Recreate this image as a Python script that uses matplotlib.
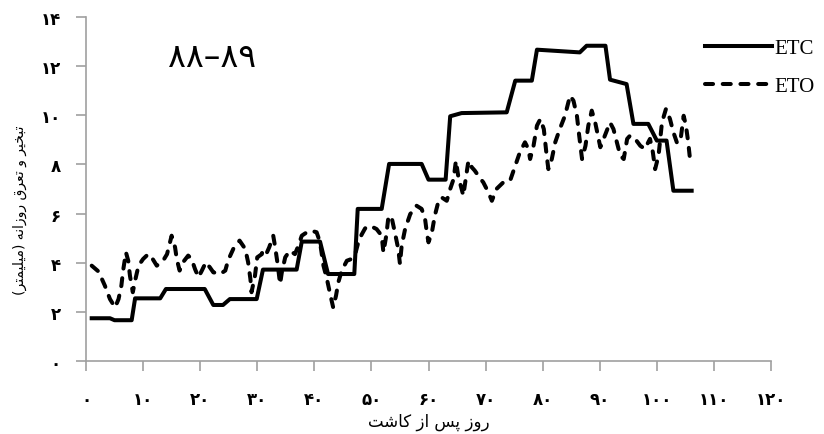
import matplotlib
matplotlib.use("Agg")
import matplotlib.pyplot as plt


plt.rcParams['font.family'] = ['DejaVu Sans']

# ETC (solid step line): day, mm/day
etc_day = [1, 4.2, 5, 8, 8.6, 13, 14, 20.8, 22.3, 24, 25.2, 29.9, 31, 36.9, 37.8, 41,
           42.4, 47, 47.6, 51.8, 53.1, 58.8, 60, 63, 63.8, 65.8, 73.7, 75.2, 78.1, 79,
           86.5, 87.7, 91, 91.8, 94.7, 95.9, 98.5, 100, 101.7, 102.9, 106.1]
etc_val = [1.74, 1.74, 1.66, 1.66, 2.55, 2.55, 2.93, 2.93, 2.28, 2.28, 2.52, 2.52, 3.72,
           3.72, 4.86, 4.86, 3.54, 3.54, 6.19, 6.19, 8.02, 8.02, 7.38, 7.38, 9.96, 10.09,
           10.12, 11.41, 11.41, 12.67, 12.56, 12.83, 12.83, 11.45, 11.27, 9.65, 9.65,
           8.97, 8.97, 6.93, 6.93]

# ETO (dashed line)
eto_day = [1, 2.2, 3.3, 4.2, 5.1, 5.7, 6.2, 6.5, 7.0, 7.4, 7.7, 8.2, 8.6, 9.2, 10, 10.9,
           11.5, 12.4, 13.5, 14.2, 15.0, 15.6, 15.9, 16.4, 17.0, 17.9, 18.5, 19.1, 19.7,
           20.3, 21.0, 21.7, 22.3, 23.5, 24.4, 24.9, 25.8, 26.9, 27.9, 28.4, 28.8, 29.0,
           29.6, 30.0, 30.8, 31.0, 31.7, 32.1, 32.8, 33.1, 33.6, 34.0, 34.3, 34.9, 35.7,
           36.6, 37.2, 37.8, 38.7, 39.5, 40.4, 41.0, 41.6, 42.2, 42.7, 43.3, 43.8, 44.2,
           44.8, 45.7, 46.5, 47.1, 47.7, 48.3, 48.9, 49.8, 50.9, 51.8, 52.1, 52.6, 53.0,
           53.6, 54.1, 54.7, 55.0, 55.3, 55.9, 56.8, 57.9, 58.8, 59.4, 59.7, 60.0, 60.6,
           61.1, 61.7, 62.3, 63.2, 63.8, 64.4, 64.8, 65.2, 66.1, 66.6, 67.0, 67.6, 68.1,
           69.0, 69.6, 70.5, 71.1, 71.9, 73.1, 74.3, 75.2, 76.0, 76.9, 77.5, 77.8, 78.4,
           79.0, 79.6, 80.2, 80.7, 81.0, 81.6, 82.2, 83.0, 83.9, 84.8, 85.4, 86.0, 86.4,
           86.9, 87.5, 88.0, 88.6, 89.2, 89.8, 90.1, 90.9, 91.8, 92.4, 93.0, 93.6, 94.2,
           94.8, 95.3, 96.2, 97.1, 97.9, 98.8, 99.3, 99.7, 100.3, 100.9, 101.6, 102.3,
           102.9, 103.5, 104.1, 104.7, 105.1, 105.5, 105.9]
eto_val = [3.88, 3.64, 3.07, 2.52, 2.18, 2.52, 3.07, 3.68, 4.42, 4.08, 3.47, 2.8, 3.27,
           3.88, 4.15, 4.35, 4.22, 3.88, 4.08, 4.35, 5.1, 4.63, 4.15, 3.68, 4.02, 4.29,
           4.15, 3.74, 3.41, 3.68, 4.02, 3.81, 3.61, 3.54, 3.68, 4.1, 4.56, 4.9, 4.56,
           4.02, 3.34, 2.8, 3.47, 4.22, 4.35, 4.56, 4.42, 4.63, 5.1, 4.69, 3.9, 3.13, 3.6,
           4.22, 4.49, 4.35, 4.69, 5.1, 5.24, 5.3, 5.24, 4.83, 3.88, 3.34, 2.8, 2.18, 2.66,
           3.2, 3.68, 4.08, 4.15, 4.29, 4.83, 5.15, 5.4, 5.5, 5.37, 5.1, 4.42, 5.1, 5.91,
           5.78, 5.24, 4.56, 3.95, 4.69, 5.37, 5.98, 6.32, 6.19, 5.78, 5.24, 4.83, 5.24,
           5.91, 6.46, 6.66, 6.52, 7.0, 7.41, 8.15, 7.54, 6.73, 7.54, 8.15, 7.88, 7.75,
           7.45, 7.27, 6.86, 6.52, 7.0, 7.27, 7.34, 7.95, 8.49, 8.9, 8.63, 8.22, 8.76,
           9.58, 9.85, 9.44, 8.36, 7.81, 8.22, 8.9, 9.44, 9.98, 10.8, 10.59, 9.98, 9.17,
           8.22, 8.76, 9.58, 10.19, 9.71, 9.04, 8.7, 9.17, 9.71, 9.44, 8.9, 8.36, 8.22,
           9.04, 9.17, 9.04, 8.76, 8.63, 9.04, 8.5, 7.81, 8.36, 9.71, 10.26, 9.85, 9.31,
           8.9, 8.9, 9.98, 9.58, 8.9, 8.02]

x_ticks = list(range(0, 121, 10))
y_ticks = list(range(0, 15, 2))

FA_DIGITS = str.maketrans('0123456789', '\u06f0\u06f1\u06f2\u06f3\u06f4\u06f5\u06f6\u06f7\u06f8\u06f9')


def fa(n):
    return str(n).translate(FA_DIGITS)


def visual(s):
    # presentation forms are already shaped, only the order has to be flipped
    return s[::-1].translate(str.maketrans('()', ')('))


# روز پس از کاشت
x_label = visual('\uFEAD\uFEED\uFEAF \uFB58\uFEB2 \uFE8D\uFEAF \uFB90\uFE8E\uFEB7\uFE96')
# تبخیر و تعرق روزانه (میلیمتر)
y_label = visual('\uFE97\uFE92\uFEA8\uFEF4\uFEAE \uFEED \uFE97\uFECC\uFEAE\uFED5 '
                 '\uFEAD\uFEED\uFEAF\uFE8D\uFEE7\uFEEA (\uFEE3\uFEF4\uFEE0\uFEF4\uFEE4\uFE98\uFEAE)')

fig = plt.figure(figsize=(8.24, 4.35), dpi=100)
ax = fig.add_axes([86 / 824, 73 / 435, 685 / 824, 344 / 435])

ax.plot(etc_day, etc_val, color='black', lw=2.9, solid_joinstyle='round', label='ETC')
ax.plot(eto_day, eto_val, color='black', lw=2.9, dashes=(2.0, 2.4),
        dash_capstyle='round', label='ETO')

ax.set_xlim(0, 120)
ax.set_ylim(0, 14)
ax.set_xticks(x_ticks)
ax.set_yticks(y_ticks)
ax.set_xticklabels([fa(t) for t in x_ticks], fontsize=12, fontweight='bold')
ax.set_yticklabels([fa(t) for t in y_ticks], fontsize=12, fontweight='bold')
ax.tick_params(axis='x', direction='out', length=7, width=1.2, color='#a0a0a0', pad=14)
ax.tick_params(axis='y', direction='out', length=7, width=1.2, color='#a0a0a0', pad=11)
for side in ['top', 'right']:
    ax.spines[side].set_visible(False)
for side in ['left', 'bottom']:
    ax.spines[side].set_color('#a0a0a0')
    ax.spines[side].set_linewidth(1.2)

ax.text(22, 12.4, fa(88) + '\u2013' + fa(89), fontsize=24,
        ha='center', va='center')

fig.text(429 / 824, 1 - 422 / 435, x_label, fontsize=12, ha='center', va='center')
fig.text(20 / 824, 1 - 210 / 435, y_label, fontsize=10, rotation=90, ha='center', va='center')

ax.legend(loc='upper left', bbox_to_anchor=(695 / 824, 1 - 29 / 435),
          bbox_transform=fig.transFigure, frameon=False, borderpad=0,
          handlelength=3.2, handletextpad=0.1, labelspacing=0.9,
          prop={'family': 'Liberation Serif', 'size': 15})

fig.savefig('out.png', dpi=100)
